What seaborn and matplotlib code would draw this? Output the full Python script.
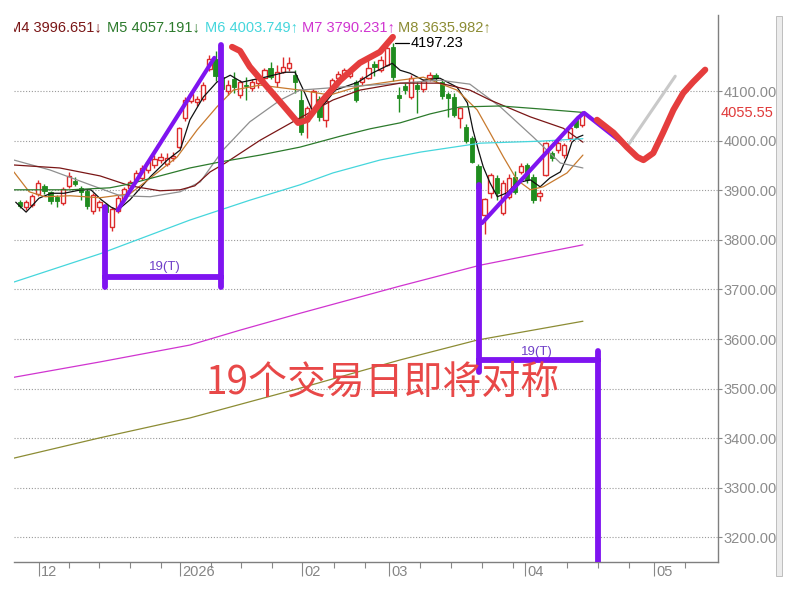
import matplotlib
matplotlib.use("Agg")
import matplotlib.pyplot as plt
from matplotlib.patches import Rectangle
from matplotlib.ticker import FormatStrFormatter
import numpy as np
import pandas as pd
import seaborn as sns

# daily candles, trading-day index 0..92 (late Nov 2025 -> mid Apr 2026)
opens = [3876, 3866, 3870, 3892, 3908, 3896, 3886, 3874, 3908, 3918,
         3904, 3898, 3858, 3866, 3870, 3826, 3858, 3882, 3905, 3920,
         3925, 3940, 3950, 3962, 3952, 3965, 3988, 4045, 4080, 4078,
         4085, 4145, 4165, 4128, 4100, 4124, 4092, 4112, 4106, 4116,
         4126, 4146, 4118, 4138, 4146, 4132, 4082, 4040, 4062, 4085,
         4042, 4106, 4126, 4128, 4130, 4118, 4118, 4126, 4154, 4142,
         4152, 4189, 4092, 4110, 4088, 4112, 4104, 4126, 4132, 4118,
         4094, 4088, 4046, 4028, 4006, 3948, 3850, 3894, 3925, 3854,
         3887, 3927, 3937, 3951, 3927, 3888, 3931, 3975, 3981, 3971,
         4005, 4041, 4031]
closes = [3868, 3877, 3888, 3914, 3899, 3878, 3878, 3902, 3928, 3912,
          3896, 3868, 3890, 3876, 3856, 3862, 3884, 3902, 3917, 3935,
          3944, 3957, 3963, 3968, 3966, 3970, 4025, 4082, 4095, 4085,
          4112, 4165, 4130, 4105, 4112, 4108, 4118, 4110, 4118, 4128,
          4142, 4128, 4138, 4148, 4156, 4118, 4017, 4066, 4100, 4048,
          4080, 4122, 4134, 4142, 4138, 4082, 4126, 4146, 4148, 4162,
          4187, 4128, 4086, 4102, 4126, 4104, 4120, 4132, 4126, 4090,
          4086, 4052, 4066, 4000, 3957, 3905, 3882, 3931, 3894, 3915,
          3925, 3897, 3948, 3921, 3880, 3895, 3995, 3965, 3995, 3991,
          4025, 4028, 4055.55]
highs = [3880, 3880, 3892, 3920, 3912, 3899, 3890, 3906, 3937, 3926,
         3908, 3902, 3895, 3880, 3874, 3866, 3890, 3906, 3920, 3940,
         3950, 3962, 3972, 3975, 3975, 3978, 4028, 4088, 4100, 4090,
         4118, 4172, 4180, 4135, 4122, 4138, 4122, 4128, 4124, 4132,
         4146, 4158, 4152, 4168, 4168, 4142, 4102, 4070, 4105, 4090,
         4084, 4126, 4140, 4146, 4146, 4122, 4130, 4162, 4160, 4170,
         4192, 4197.23, 4108, 4116, 4132, 4118, 4124, 4138, 4136, 4124,
         4098, 4096, 4068, 4034, 4010, 3952, 3885, 3935, 3930, 3920,
         3932, 3938, 3955, 3956, 3932, 3900, 3998, 3980, 4000, 3995,
         4030, 4045, 4060]
lows = [3864, 3860, 3866, 3888, 3893, 3872, 3866, 3870, 3904, 3908,
        3880, 3862, 3852, 3858, 3850, 3818, 3855, 3878, 3900, 3915,
        3920, 3935, 3945, 3955, 3948, 3960, 3985, 4040, 4075, 4070,
        4080, 4140, 4120, 4098, 4092, 4096, 4086, 4082, 4100, 4106,
        4122, 4124, 4108, 4136, 4140, 4096, 4012, 4005, 4058, 4040,
        4028, 4100, 4120, 4124, 4126, 4078, 4112, 4124, 4130, 4138,
        4150, 4120, 4058, 4095, 4084, 4056, 4098, 4120, 4118, 4084,
        4048, 4048, 4025, 3996, 3955, 3895, 3812, 3885, 3880, 3850,
        3882, 3893, 3932, 3915, 3874, 3878, 3928, 3960, 3975, 3965,
        4000, 4025, 4028]

# moving average lines as (index, value) points
ma1_idx = [-0.7, 1.0, 3.1, 5.1, 7.2, 10.0, 11.6, 13.3, 14.9, 16.0, 18.0, 21.3, 24.1, 26.2,
           27.8, 30.0, 32.2, 34.4, 36.3, 40.1, 43.4, 45.0, 46.6, 47.9, 49.9, 51.6, 55.3,
           57.6, 60.9, 62.2, 63.8, 66.0, 68.7, 71.5, 73.2, 74.1, 75.0, 75.8, 76.9, 78.1,
           79.7, 81.3, 83.5, 85.1, 86.7, 88.4, 89.5, 90.3, 91.3, 92.1]
ma1_val = [3876, 3856, 3884, 3894, 3894, 3901, 3901, 3881, 3866, 3860, 3881, 3927, 3961, 3981,
           4042, 4088, 4118, 4132, 4118, 4128, 4138, 4138, 4096, 4058, 4076, 4102, 4118,
           4136, 4156, 4142, 4136, 4122, 4126, 4108, 4076, 4022, 3981, 3947, 3915, 3887,
           3895, 3915, 3921, 3907, 3925, 3937, 3967, 3997, 4007, 4011]
ma2_idx = [-1.0, 1.5, 4.1, 8.2, 13.1, 18.0, 22.4, 25.7, 29.0, 32.2, 34.9, 39.3, 45.8, 50.7,
           55.6, 62.2, 66.0, 71.5, 74.8, 76.9, 79.1, 81.3, 83.5, 85.6, 89.5, 92.1]
ma2_val = [3937, 3897, 3887, 3889, 3885, 3893, 3935, 3967, 4022, 4068, 4102, 4112, 4102, 4092,
           4110, 4122, 4128, 4102, 4062, 4016, 3967, 3921, 3901, 3907, 3935, 3971]
ma3_idx = [-1.0, 4.9, 11.5, 16.4, 21.3, 26.2, 29.5, 33.2, 37.6, 42.6, 45.8, 52.4, 62.2, 68.7,
           73.6, 78.6, 84.0, 88.4, 92.1]
ma3_val = [3961, 3941, 3911, 3889, 3887, 3897, 3917, 3981, 4038, 4082, 4102, 4108, 4116, 4122,
           4114, 4068, 4007, 3955, 3945]
ma4_idx = [-1.0, 6.5, 13.1, 18.0, 22.9, 26.2, 28.6, 31.1, 33.6, 39.3, 45.8, 51.2, 55.6, 62.2,
           68.7, 73.6, 76.9, 83.5, 88.9, 92.1]
ma4_val = [3951, 3945, 3929, 3909, 3899, 3901, 3909, 3937, 3955, 4001, 4046, 4082, 4102, 4116,
           4116, 4102, 4082, 4048, 4025, 3997]
ma5_idx = [-1.0, 8.2, 14.7, 18.0, 22.9, 27.8, 32.7, 39.3, 45.8, 52.4, 57.3, 62.2, 67.1, 72.0,
           78.6, 85.1, 92.1]
ma5_val = [3901, 3901, 3905, 3913, 3929, 3945, 3957, 3971, 3987, 4009, 4024, 4036, 4054, 4068,
           4070, 4064, 4057]
ma6_idx = [-1.0, 13.1, 27.8, 37.6, 45.8, 51.2, 58.9, 65.5, 75.3, 85.1, 92.1]
ma6_val = [3715, 3772, 3840, 3880, 3911, 3935, 3961, 3977, 3995, 3999, 4004]
ma7_idx = [-1.0, 13.1, 27.8, 36.0, 45.8, 62.2, 75.3, 92.1]
ma7_val = [3523, 3554, 3588, 3618, 3652, 3707, 3749, 3790]
ma8_idx = [-1.0, 13.1, 27.8, 45.8, 62.2, 74.8, 92.1]
ma8_val = [3360, 3401, 3441, 3501, 3558, 3598, 3636]

ma_names = ["M1", "M2", "M3", "M4", "M5", "M6", "M7", "M8"]
ma_points = [(ma1_idx, ma1_val), (ma2_idx, ma2_val), (ma3_idx, ma3_val), (ma4_idx, ma4_val),
             (ma5_idx, ma5_val), (ma6_idx, ma6_val), (ma7_idx, ma7_val), (ma8_idx, ma8_val)]
ma_colors = {"M1": "#111111", "M2": "#c87a2e", "M3": "#8f8f8f", "M4": "#7a1616",
             "M5": "#2c7a2c", "M6": "#45d6dc", "M7": "#d034d0", "M8": "#8c8c34"}

# header readout
head_names = ["M4", "M5", "M6", "M7", "M8"]
head_values = [3996.651, 4057.191, 4003.749, 3790.231, 3635.982]
head_arrows = ["↓", "↓", "↑", "↑", "↑"]

month_ticks = [3.1, 26.2, 46.2, 60.4, 82.7, 103.8]
month_labels = ["12", "2026", "02", "03", "04", "05"]
week_ticks = [8.0, 13.0, 18.0, 23.1, 31.3, 36.2, 41.2, 51.4, 56.5, 65.5, 70.5, 75.6,
              80.7, 89.5, 94.6, 99.7, 108.8]

# hand drawn marks on the chart
left_bracket = ([13.9, 13.9, np.nan, 13.9, 32.9, np.nan, 32.9, 32.9],
                [3866, 3705, np.nan, 3725, 3725, np.nan, 4193, 3705])
right_bracket = ([75.1, 75.1, np.nan, 75.1, 94.5, np.nan, 94.5, 94.5],
                 [3911, 3534, np.nan, 3558, 3558, np.nan, 3576, 3120])
rise1 = ([16.0, 31.8], [3860, 4167])
rise2 = ([75.6, 91.3, 92.3, 99.0], [3834, 4046, 4056, 3991])
red_v = ([34.7, 36.0, 37.6, 40.9, 43.7, 45.5, 47.0, 49.1, 52.4, 55.6, 58.9, 61.0],
         [4189, 4181, 4149, 4102, 4062, 4036, 4042, 4076, 4122, 4157, 4179, 4209])
red_path = ([94.4, 97.1, 99.3, 101.0, 102.0, 103.6, 105.2, 106.9, 108.5, 110.1, 112.1],
            [4042, 4016, 3987, 3967, 3961, 3975, 4016, 4062, 4096, 4118, 4143])
grey_path = ([99.5, 107.2], [3991, 4130])

last_close = 4055.55
peak_value = 4197.23

sns.set_theme(style="white")
plt.rcParams["font.family"] = ["Liberation Sans", "DejaVu Sans"]

fig = plt.figure(figsize=(8.05, 5.94), dpi=100)
fig.patch.set_facecolor("white")
ax = fig.add_axes([14 / 805, 1 - 562 / 594, 704 / 805, 547 / 594])
ax.set_facecolor("white")

# grid
yt = np.arange(3200, 4101, 100)
for y in yt:
    ax.axhline(y, color="#9a9a9a", lw=0.8, ls=(0, (1, 1.6)), zorder=1)

# moving averages via seaborn
df = pd.concat([pd.DataFrame({"idx": p[0], "val": p[1], "line": n})
                for n, p in zip(ma_names, ma_points)], ignore_index=True)
sns.lineplot(data=df, x="idx", y="val", hue="line", palette=ma_colors, estimator=None,
             sort=False, legend=False, linewidth=0.9, ax=ax, zorder=4)

# candles
o = np.array(opens, float)
c = np.array(closes, float)
h = np.array(highs, float)
l = np.array(lows, float)
x = np.arange(len(c))
up = c >= o
red = "#dc2b2b"
green = "#1f8c1f"
ax.vlines(x[up], l[up], h[up], color=red, lw=1.0, zorder=3)
ax.vlines(x[~up], l[~up], h[~up], color=green, lw=1.0, zorder=3)
bottom = np.minimum(o, c)
height = np.maximum(np.abs(c - o), 1.5)
ax.bar(x[up], height[up], bottom=bottom[up], width=0.7, facecolor="white",
       edgecolor=red, linewidth=1.0, zorder=3.5)
ax.bar(x[~up], height[~up], bottom=bottom[~up], width=0.7, color=green,
       edgecolor=green, linewidth=0.6, zorder=3.5)

# peak marker
ax.plot([61.3, 63.6], [peak_value, peak_value], color="black", lw=0.9, zorder=5)
ax.text(63.9, peak_value, f"{peak_value:.2f}", color="black", fontsize=10.5,
        va="center", ha="left", zorder=6)

# hand drawn annotation
purple = "#7f14f0"
kw = dict(solid_capstyle="round", solid_joinstyle="round", zorder=6)
ax.plot(*left_bracket, color=purple, lw=4.2, **kw)
ax.plot(*right_bracket, color=purple, lw=4.2, **kw)
ax.plot(*rise1, color=purple, lw=3.0, **kw)
ax.plot(*rise2, color=purple, lw=3.0, **kw)
ax.plot(*grey_path, color="#c9c9c9", lw=2.2, **kw)
ax.plot(*red_v, color="#e53d3d", lw=4.5, **kw)
ax.plot(*red_path, color="#e53d3d", lw=4.5, **kw)

ax.text(23.7, 3745, "19(T)", color="#6f3fc8", fontsize=9.5, ha="center", va="center", zorder=5)
ax.text(84.6, 3574, "19(T)", color="#6f3fc8", fontsize=9.5, ha="center", va="center", zorder=5)
ax.text(30.3, 3512, "19个交易日即将对称", color="#e84848", fontsize=28,
        family=["Noto Sans CJK SC", "DejaVu Sans"], ha="left", va="center", zorder=7)

# header readout
head_px = [9, 107, 205, 302, 398]
for name, val, arr, px in zip(head_names, head_values, head_arrows, head_px):
    ax.text((px - 14) / 704, 0.978, f"{name} {val:.3f}{arr}", transform=ax.transAxes,
            color=ma_colors[name], fontsize=10.5, ha="left", va="center", clip_on=True,
            zorder=7)

# axes
ax.set_xlim(-0.98, 114.2)
ax.set_ylim(3150.6, 4253.4)
ax.yaxis.tick_right()
ax.set_yticks(yt)
ax.yaxis.set_major_formatter(FormatStrFormatter("%.2f"))
ax.tick_params(axis="y", which="both", direction="out", length=3, width=0.8,
               color="#888888", labelcolor="#8c8c8c", labelsize=10.5, pad=1,
               left=False, right=True)
ax.set_xticks(month_ticks)
ax.set_xticks(week_ticks, minor=True)
ax.set_xticklabels([])
ax.tick_params(axis="x", which="major", direction="out", length=10, width=0.8,
               color="#888888", bottom=True)
ax.tick_params(axis="x", which="minor", direction="out", length=4.5, width=0.8,
               color="#888888", bottom=True)
for pos, lab in zip(month_ticks, month_labels):
    ax.text(pos + 0.35, -0.006, lab, transform=ax.get_xaxis_transform(), ha="left",
            va="top", color="#858585", fontsize=10.5)
ax.text(1.004, last_close, f"{last_close:.2f}", transform=ax.get_yaxis_transform(),
        ha="left", va="center", color="#e03a3a", fontsize=10.5)
ax.set_xlabel("")
ax.set_ylabel("")
for side in ["left", "top"]:
    ax.spines[side].set_visible(False)
for side in ["right", "bottom"]:
    ax.spines[side].set_color("#7f7f7f")
    ax.spines[side].set_linewidth(1.0)

# scrollbar strip at the far right
fig.patches.append(Rectangle((776 / 805, 1 - 576 / 594), 6 / 805, 560 / 594,
                             transform=fig.transFigure, facecolor="#ececec",
                             edgecolor="#b5b5b5", lw=0.6))

fig.savefig("out.png", dpi=100)
